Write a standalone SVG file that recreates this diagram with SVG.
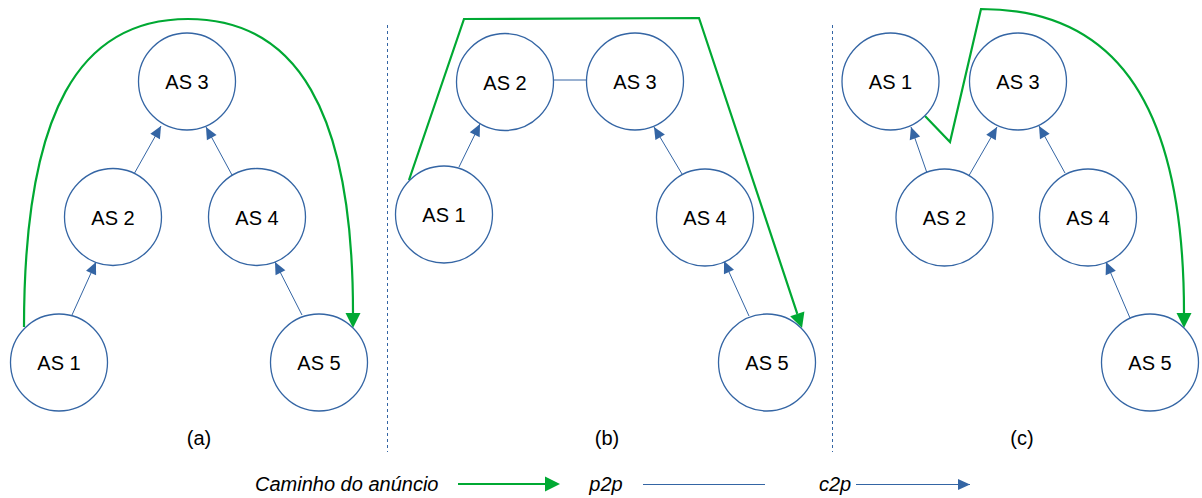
<svg xmlns="http://www.w3.org/2000/svg" width="1202" height="498" viewBox="0 0 1202 498">
  <style>
    .node circle { fill: #ffffff; stroke: #3465a4; stroke-width: 1.3; }
    .node text, .caption { font-family: "Liberation Sans", Arial, sans-serif; font-size: 20px; fill: #000000; text-anchor: middle; }
    .legend { font-family: "Liberation Sans", Arial, sans-serif; font-size: 20px; font-style: italic; fill: #000000; }
    .c2p { fill: none; stroke: #3465a4; stroke-width: 1; marker-end: url(#blueHead); }
    .p2p { fill: none; stroke: #3465a4; stroke-width: 1; }
    .route { fill: none; stroke: #00a933; stroke-width: 2.2; stroke-linejoin: miter; marker-end: url(#greenHead); }
    .divider { stroke: #3465a4; stroke-width: 1; stroke-dasharray: 3 3; }
  </style>
  <defs>
    <marker id="blueHead" markerUnits="userSpaceOnUse" markerWidth="13" markerHeight="12" refX="12" refY="5.5" orient="auto" overflow="visible">
      <path d="M0,0 L12,5.5 L0,11 z" fill="#3465a4"/>
    </marker>
    <marker id="greenHead" markerUnits="userSpaceOnUse" markerWidth="16" markerHeight="16" refX="0" refY="7.5" orient="auto" overflow="visible">
      <path d="M0,0 L15,7.5 L0,15 z" fill="#00a933"/>
    </marker>
  </defs>

  <rect x="0" y="0" width="1202" height="498" fill="#ffffff"/>

  <!-- panel separators -->
  <line class="divider" x1="387.5" y1="25" x2="387.5" y2="452"/>
  <line class="divider" x1="832.5" y1="25" x2="832.5" y2="452"/>

  <!-- connectors -->
  <g id="connectors">
    <!-- panel (a) -->
    <path class="c2p" d="M72,315 L96,262"/>
    <path class="c2p" d="M134,174 L161,126"/>
    <path class="c2p" d="M232,175 L206,127"/>
    <path class="c2p" d="M302,315 L275,262"/>
    <path class="route" d="M24,327 C24,110 80,19 188,19 C296,19 353,110 353,313"/>
    <!-- panel (b) -->
    <path class="c2p" d="M459,167 L480,124"/>
    <path class="c2p" d="M682,174 L654,127"/>
    <path class="c2p" d="M749,316 L724,261"/>
    <path class="p2p" d="M553.5,80 L586.5,80"/>
    <path class="route" d="M409,180 L464,19 L699,18 L797.3,313.8"/>
    <!-- panel (c) -->
    <path class="c2p" d="M927,173 L911,127"/>
    <path class="c2p" d="M969,175.5 L997,127"/>
    <path class="c2p" d="M1065,173 L1039,126"/>
    <path class="c2p" d="M1130,318 L1106,262"/>
    <path class="route" d="M925,116 L950,142 L981,9 C1120,9 1184,110 1184,313"/>
  </g>

  <!-- panel (a) nodes -->
  <g id="a-as3" class="node"><circle cx="187" cy="81.5" r="48.5"/><text x="187" y="89">AS 3</text></g>
  <g id="a-as2" class="node"><circle cx="113" cy="217" r="48.5"/><text x="113" y="224.5">AS 2</text></g>
  <g id="a-as4" class="node"><circle cx="257" cy="217" r="48.5"/><text x="257" y="224.5">AS 4</text></g>
  <g id="a-as1" class="node"><circle cx="59" cy="362.5" r="48.5"/><text x="59" y="370">AS 1</text></g>
  <g id="a-as5" class="node"><circle cx="319" cy="362.5" r="48.5"/><text x="319" y="370">AS 5</text></g>

  <!-- panel (b) nodes -->
  <g id="b-as2" class="node"><circle cx="505" cy="82" r="48.5"/><text x="505" y="89.5">AS 2</text></g>
  <g id="b-as3" class="node"><circle cx="635" cy="81.5" r="48.5"/><text x="635" y="89">AS 3</text></g>
  <g id="b-as1" class="node"><circle cx="444" cy="214.5" r="48.5"/><text x="444" y="222">AS 1</text></g>
  <g id="b-as4" class="node"><circle cx="705" cy="217.5" r="48.5"/><text x="705" y="225">AS 4</text></g>
  <g id="b-as5" class="node"><circle cx="767" cy="362.5" r="48.5"/><text x="767" y="370">AS 5</text></g>

  <!-- panel (c) nodes -->
  <g id="c-as1" class="node"><circle cx="890.5" cy="81.5" r="48.5"/><text x="890.5" y="89">AS 1</text></g>
  <g id="c-as3" class="node"><circle cx="1018" cy="81.5" r="48.5"/><text x="1018" y="89">AS 3</text></g>
  <g id="c-as2" class="node"><circle cx="944.5" cy="217.5" r="48.5"/><text x="944.5" y="225">AS 2</text></g>
  <g id="c-as4" class="node"><circle cx="1088" cy="217.5" r="48.5"/><text x="1088" y="225">AS 4</text></g>
  <g id="c-as5" class="node"><circle cx="1150" cy="362.5" r="48.5"/><text x="1150" y="370">AS 5</text></g>

  <!-- panel captions -->
  <text class="caption" x="199" y="445">(a)</text>
  <text class="caption" x="607" y="445">(b)</text>
  <text class="caption" x="1022" y="445">(c)</text>

  <!-- legend -->
  <g id="legend">
    <text class="legend" x="255" y="491">Caminho do anúncio</text>
    <path class="route" d="M458,484 L545,484"/>
    <text class="legend" x="606" y="491" text-anchor="middle">p2p</text>
    <path class="p2p" d="M643,484.5 L765,484.5"/>
    <text class="legend" x="835" y="491" text-anchor="middle">c2p</text>
    <path class="c2p" d="M856,484.5 L970,484.5"/>
  </g>
</svg>
